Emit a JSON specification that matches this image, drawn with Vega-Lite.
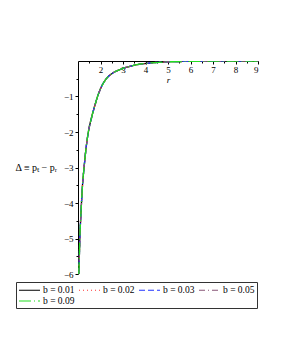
{
  "$schema": "https://vega.github.io/schema/vega-lite/v6.json",
  "autosize": "none",
  "padding": {"left": 78, "top": 61, "right": 23, "bottom": 89},
  "width": 180,
  "height": 213,
  "background": "white",
  "config": {"view": {"stroke": null}, "font": "Liberation Serif"},
  "data": {"values": [
    {"b": "0.01", "r": 1.036, "d": -6.0}, {"b": "0.01", "r": 1.06, "d": -5.5}, {"b": "0.01", "r": 1.08, "d": -5.0}, {"b": "0.01", "r": 1.115, "d": -4.5}, {"b": "0.01", "r": 1.155, "d": -4.0}, {"b": "0.01", "r": 1.2, "d": -3.5}, {"b": "0.01", "r": 1.27, "d": -3.0}, {"b": "0.01", "r": 1.35, "d": -2.5}, {"b": "0.01", "r": 1.46, "d": -2.0}, {"b": "0.01", "r": 1.6, "d": -1.6}, {"b": "0.01", "r": 1.75, "d": -1.25}, {"b": "0.01", "r": 1.87, "d": -1.0}, {"b": "0.01", "r": 2.0, "d": -0.78}, {"b": "0.01", "r": 2.22, "d": -0.53}, {"b": "0.01", "r": 2.52, "d": -0.35}, {"b": "0.01", "r": 2.96, "d": -0.22}, {"b": "0.01", "r": 3.56, "d": -0.11}, {"b": "0.01", "r": 4.15, "d": -0.06}, {"b": "0.01", "r": 4.9, "d": -0.025}, {"b": "0.01", "r": 6.0, "d": -0.01}, {"b": "0.01", "r": 7.0, "d": -0.005}, {"b": "0.01", "r": 8.0, "d": -0.003}, {"b": "0.01", "r": 9.0, "d": -0.002},
    {"b": "0.02", "r": 1.036, "d": -6.0}, {"b": "0.02", "r": 1.06, "d": -5.5}, {"b": "0.02", "r": 1.08, "d": -5.0}, {"b": "0.02", "r": 1.115, "d": -4.5}, {"b": "0.02", "r": 1.155, "d": -4.0}, {"b": "0.02", "r": 1.2, "d": -3.5}, {"b": "0.02", "r": 1.27, "d": -3.0}, {"b": "0.02", "r": 1.35, "d": -2.5}, {"b": "0.02", "r": 1.46, "d": -2.0}, {"b": "0.02", "r": 1.6, "d": -1.6}, {"b": "0.02", "r": 1.75, "d": -1.25}, {"b": "0.02", "r": 1.87, "d": -1.0}, {"b": "0.02", "r": 2.0, "d": -0.78}, {"b": "0.02", "r": 2.22, "d": -0.53}, {"b": "0.02", "r": 2.52, "d": -0.35}, {"b": "0.02", "r": 2.96, "d": -0.22}, {"b": "0.02", "r": 3.56, "d": -0.11}, {"b": "0.02", "r": 4.15, "d": -0.06}, {"b": "0.02", "r": 4.9, "d": -0.025}, {"b": "0.02", "r": 6.0, "d": -0.01}, {"b": "0.02", "r": 7.0, "d": -0.005}, {"b": "0.02", "r": 8.0, "d": -0.003}, {"b": "0.02", "r": 9.0, "d": -0.002},
    {"b": "0.03", "r": 1.036, "d": -6.0}, {"b": "0.03", "r": 1.06, "d": -5.5}, {"b": "0.03", "r": 1.08, "d": -5.0}, {"b": "0.03", "r": 1.115, "d": -4.5}, {"b": "0.03", "r": 1.155, "d": -4.0}, {"b": "0.03", "r": 1.2, "d": -3.5}, {"b": "0.03", "r": 1.27, "d": -3.0}, {"b": "0.03", "r": 1.35, "d": -2.5}, {"b": "0.03", "r": 1.46, "d": -2.0}, {"b": "0.03", "r": 1.6, "d": -1.6}, {"b": "0.03", "r": 1.75, "d": -1.25}, {"b": "0.03", "r": 1.87, "d": -1.0}, {"b": "0.03", "r": 2.0, "d": -0.78}, {"b": "0.03", "r": 2.22, "d": -0.53}, {"b": "0.03", "r": 2.52, "d": -0.35}, {"b": "0.03", "r": 2.96, "d": -0.22}, {"b": "0.03", "r": 3.56, "d": -0.11}, {"b": "0.03", "r": 4.15, "d": -0.06}, {"b": "0.03", "r": 4.9, "d": -0.025}, {"b": "0.03", "r": 6.0, "d": -0.01}, {"b": "0.03", "r": 7.0, "d": -0.005}, {"b": "0.03", "r": 8.0, "d": -0.003}, {"b": "0.03", "r": 9.0, "d": -0.002},
    {"b": "0.05", "r": 1.036, "d": -6.0}, {"b": "0.05", "r": 1.06, "d": -5.5}, {"b": "0.05", "r": 1.08, "d": -5.0}, {"b": "0.05", "r": 1.115, "d": -4.5}, {"b": "0.05", "r": 1.155, "d": -4.0}, {"b": "0.05", "r": 1.2, "d": -3.5}, {"b": "0.05", "r": 1.27, "d": -3.0}, {"b": "0.05", "r": 1.35, "d": -2.5}, {"b": "0.05", "r": 1.46, "d": -2.0}, {"b": "0.05", "r": 1.6, "d": -1.6}, {"b": "0.05", "r": 1.75, "d": -1.25}, {"b": "0.05", "r": 1.87, "d": -1.0}, {"b": "0.05", "r": 2.0, "d": -0.78}, {"b": "0.05", "r": 2.22, "d": -0.53}, {"b": "0.05", "r": 2.52, "d": -0.35}, {"b": "0.05", "r": 2.96, "d": -0.22}, {"b": "0.05", "r": 3.56, "d": -0.11}, {"b": "0.05", "r": 4.15, "d": -0.06}, {"b": "0.05", "r": 4.9, "d": -0.025}, {"b": "0.05", "r": 6.0, "d": -0.01}, {"b": "0.05", "r": 7.0, "d": -0.005}, {"b": "0.05", "r": 8.0, "d": -0.003}, {"b": "0.05", "r": 9.0, "d": -0.002},
    {"b": "0.09", "r": 1.036, "d": -6.0}, {"b": "0.09", "r": 1.06, "d": -5.5}, {"b": "0.09", "r": 1.08, "d": -5.0}, {"b": "0.09", "r": 1.115, "d": -4.5}, {"b": "0.09", "r": 1.155, "d": -4.0}, {"b": "0.09", "r": 1.2, "d": -3.5}, {"b": "0.09", "r": 1.27, "d": -3.0}, {"b": "0.09", "r": 1.35, "d": -2.5}, {"b": "0.09", "r": 1.46, "d": -2.0}, {"b": "0.09", "r": 1.6, "d": -1.6}, {"b": "0.09", "r": 1.75, "d": -1.25}, {"b": "0.09", "r": 1.87, "d": -1.0}, {"b": "0.09", "r": 2.0, "d": -0.78}, {"b": "0.09", "r": 2.22, "d": -0.53}, {"b": "0.09", "r": 2.52, "d": -0.35}, {"b": "0.09", "r": 2.96, "d": -0.22}, {"b": "0.09", "r": 3.56, "d": -0.11}, {"b": "0.09", "r": 4.15, "d": -0.06}, {"b": "0.09", "r": 4.9, "d": -0.025}, {"b": "0.09", "r": 6.0, "d": -0.01}, {"b": "0.09", "r": 7.0, "d": -0.005}, {"b": "0.09", "r": 8.0, "d": -0.003}, {"b": "0.09", "r": 9.0, "d": -0.002}
  ]},
  "mark": {"type": "line", "interpolate": "monotone", "strokeWidth": 1.3, "clip": true},
  "encoding": {
    "x": {
      "field": "r", "type": "quantitative",
      "scale": {"domain": [1, 9], "nice": false, "zero": false},
      "axis": {
        "orient": "bottom", "offset": -213,
        "values": [1.5, 2, 2.5, 3, 3.5, 4, 4.5, 5, 5.5, 6, 6.5, 7, 7.5, 8, 8.5, 9],
        "labelExpr": "datum.value % 1 == 0 ? datum.value : ''",
        "tickSize": {"condition": {"test": "datum.value % 1 != 0", "value": 2}, "value": 3},
        "domainColor": "black", "tickColor": "black", "labelColor": "black",
        "labelFont": "Liberation Serif", "labelFontSize": 9, "labelPadding": 1,
        "grid": false,
        "title": "r", "titleFont": "Liberation Serif", "titleFontStyle": "italic", "titleFontWeight": "normal",
        "titleFontSize": 9, "titlePadding": 1, "titleColor": "black"
      }
    },
    "y": {
      "field": "d", "type": "quantitative",
      "scale": {"domain": [-6, 0], "nice": false},
      "axis": {
        "values": [-6, -5.5, -5, -4.5, -4, -3.5, -3, -2.5, -2, -1.5, -1, -0.5],
        "labelExpr": "datum.value % 1 == 0 ? '−' + abs(datum.value) : ''",
        "tickSize": {"condition": {"test": "datum.value % 1 != 0", "value": 2}, "value": 3},
        "domainColor": "black", "tickColor": "black", "labelColor": "black",
        "labelFont": "Liberation Serif", "labelFontSize": 9, "labelPadding": 2,
        "grid": false,
        "title": "Δ ≡ pₜ − pᵣ", "titleAngle": 0, "titleAlign": "left", "titleBaseline": "middle",
        "titleX": -63, "titleY": 106, "titleFont": "Liberation Serif", "titleFontWeight": "normal",
        "titleFontSize": 10, "titleColor": "black"
      }
    },
    "color": {
      "field": "b", "type": "nominal",
      "scale": {"domain": ["0.01", "0.02", "0.03", "0.05", "0.09"], "range": ["#000000", "#ff3333", "#2233ff", "#885577", "#22dd22"]},
      "legend": {
        "orient": "none", "legendX": -62, "legendY": 221, "direction": "horizontal", "columns": 4,
        "title": null, "strokeColor": "#333333", "padding": 2,
        "symbolType": "M-1,0H3.2", "symbolSize": 100, "symbolStrokeWidth": 1.2, "symbolOpacity": 1,
        "labelExpr": "'b = ' + datum.label", "labelFont": "Liberation Serif", "labelFontSize": 9.5, "labelColor": "black",
        "labelOffset": 13, "columnPadding": 1, "rowPadding": 0
      }
    },
    "strokeDash": {
      "field": "b", "type": "nominal",
      "scale": {"domain": ["0.01", "0.02", "0.03", "0.05", "0.09"], "range": [[1, 0], [1, 3], [6, 3], [6, 3, 1, 3], [12, 3, 1, 3]]}
    }
  }
}
